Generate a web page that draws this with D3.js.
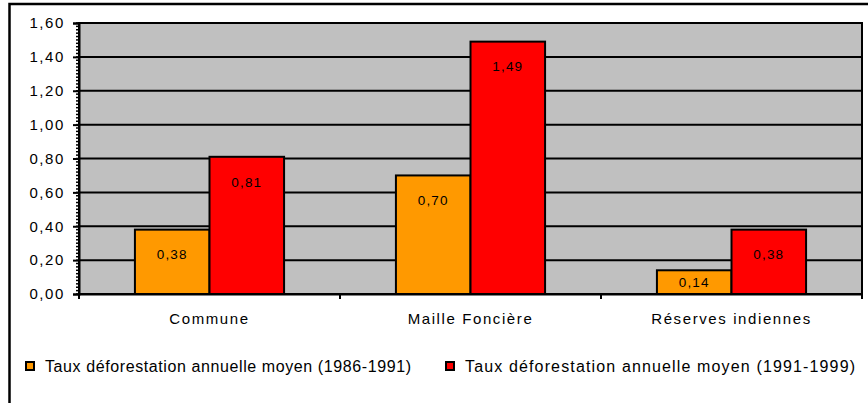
<!DOCTYPE html>
<html>
<head>
<meta charset="utf-8">
<script src="https://cdn.jsdelivr.net/npm/d3@7"></script>
<style>
  body { margin: 0; background: #fff; }
  text { font-family: "Liberation Sans", Arial, sans-serif; fill: #000; }
</style>
</head>
<body>
<div id="chart"></div>
<script>
// Data
const categories = ["Commune", "Maille Foncière", "Réserves indiennes"];
const seriesNames = [
    "Taux déforestation annuelle moyen (1986-1991)",
    "Taux déforestation annuelle moyen (1991-1999)"
];
const values1986 = [0.38, 0.70, 0.14];
const values1991 = [0.81, 1.49, 0.38];
const yTicks = [0, 0.2, 0.4, 0.6, 0.8, 1.0, 1.2, 1.4, 1.6];

const width = 868;
const height = 403;
const colors = ["#ff9900", "#ff0000"];

const plot = { left: 79, right: 862, top: 23, bottom: 294 };

const svg = d3.select("#chart")
    .append("svg")
    .attr("width", width)
    .attr("height", height);

// outer frame (runs off the right and bottom edges)
svg.append("rect")
    .attr("x", 9.5)
    .attr("y", 4)
    .attr("width", 900)
    .attr("height", 450)
    .attr("fill", "none")
    .attr("stroke", "#000")
    .attr("stroke-width", 2.5);

const x0 = d3.scaleBand()
    .domain(categories)
    .range([plot.left, plot.right])
    .padding(0);

const x1 = d3.scaleBand()
    .domain([0, 1])
    .range([0, x0.bandwidth()])
    .paddingInner(0)
    .paddingOuter(0.75);

const y = d3.scaleLinear()
    .domain([0, 1.6])
    .range([plot.bottom, plot.top]);

const fmt = v => d3.format(".2f")(v).replace(".", ",");

// plot background
svg.append("rect")
    .attr("x", plot.left)
    .attr("y", plot.top)
    .attr("width", plot.right - plot.left)
    .attr("height", plot.bottom - plot.top)
    .attr("fill", "#c0c0c0")
    .attr("stroke", "#000")
    .attr("stroke-width", 2);

// gridlines
svg.append("g")
    .selectAll("line")
    .data(yTicks.slice(1))
    .join("line")
    .attr("x1", plot.left)
    .attr("x2", plot.right)
    .attr("y1", d => y(d))
    .attr("y2", d => y(d))
    .attr("stroke", "#000")
    .attr("stroke-width", 2);

// bars
const rows = categories.map((c, i) => ({ cat: c, vals: [values1986[i], values1991[i]] }));

const groups = svg.selectAll(".grp")
    .data(rows)
    .join("g")
    .attr("class", "grp")
    .attr("transform", d => `translate(${x0(d.cat)},0)`);

groups.selectAll("rect")
    .data(d => d.vals.map((v, k) => ({ v, k })))
    .join("rect")
    .attr("x", d => x1(d.k))
    .attr("width", x1.bandwidth())
    .attr("y", d => y(d.v))
    .attr("height", d => y(0) - y(d.v))
    .attr("fill", d => colors[d.k])
    .attr("stroke", "#000")
    .attr("stroke-width", 2);

// value labels
groups.selectAll(".val")
    .data(d => d.vals.map((v, k) => ({ v, k })))
    .join("text")
    .attr("class", "val")
    .attr("x", d => x1(d.k) + x1.bandwidth() / 2)
    .attr("y", d => Math.min(y(d.v) + 25, (y(d.v) + y(0)) / 2))
    .attr("dy", "0.35em")
    .attr("text-anchor", "middle")
    .style("font-size", "13.5px")
    .style("letter-spacing", "1.2px")
    .text(d => fmt(d.v));

// y axis
const yAxis = d3.axisLeft(y)
    .tickValues(yTicks)
    .tickSize(6)
    .tickPadding(8)
    .tickFormat(fmt);

const gy = svg.append("g")
    .attr("transform", `translate(${plot.left},0)`)
    .call(yAxis);
gy.select(".domain").attr("stroke-width", 2);
gy.selectAll(".tick line").attr("stroke-width", 2);
gy.selectAll(".tick text")
    .style("font-size", "15px")
    .style("letter-spacing", "1.6px")
    .style("font-family", "'Liberation Sans', Arial, sans-serif");

// minor ticks every 0.02
svg.append("g")
    .selectAll("line")
    .data(d3.range(0, 81).map(i => i * 0.02))
    .join("line")
    .attr("x1", plot.left - 3)
    .attr("x2", plot.left)
    .attr("y1", d => y(d))
    .attr("y2", d => y(d))
    .attr("stroke", "#000")
    .attr("stroke-width", 1.5);

// x axis
const xAxis = d3.axisBottom(x0).tickSize(0).tickPadding(19);
const gx = svg.append("g")
    .attr("transform", `translate(0,${plot.bottom})`)
    .call(xAxis);
gx.select(".domain").attr("stroke-width", 2);
gx.selectAll(".tick text")
    .style("font-size", "15px")
    .style("letter-spacing", "1.6px")
    .style("font-family", "'Liberation Sans', Arial, sans-serif");

// category separator ticks
svg.append("g")
    .selectAll("line")
    .data(categories.map(c => x0(c)).concat([plot.right]))
    .join("line")
    .attr("x1", d => d)
    .attr("x2", d => d)
    .attr("y1", plot.bottom)
    .attr("y2", plot.bottom + 5)
    .attr("stroke", "#000")
    .attr("stroke-width", 2);

// legend
const legendItems = [
    { x: 25, tx: 45, w: 366 },
    { x: 445, tx: 465, w: 390 }
];
const legend = svg.append("g");
legend.selectAll("rect")
    .data(legendItems)
    .join("rect")
    .attr("x", d => d.x + 1)
    .attr("y", 362)
    .attr("width", 8)
    .attr("height", 8)
    .attr("fill", (d, i) => colors[i])
    .attr("stroke", "#000")
    .attr("stroke-width", 2);
legend.selectAll("text")
    .data(legendItems)
    .join("text")
    .attr("x", d => d.tx)
    .attr("y", 366)
    .attr("dy", "0.35em")
    .attr("textLength", d => d.w)
    .attr("lengthAdjust", "spacing")
    .style("font-size", "16px")
    .text((d, i) => seriesNames[i]);
</script>
</body>
</html>
